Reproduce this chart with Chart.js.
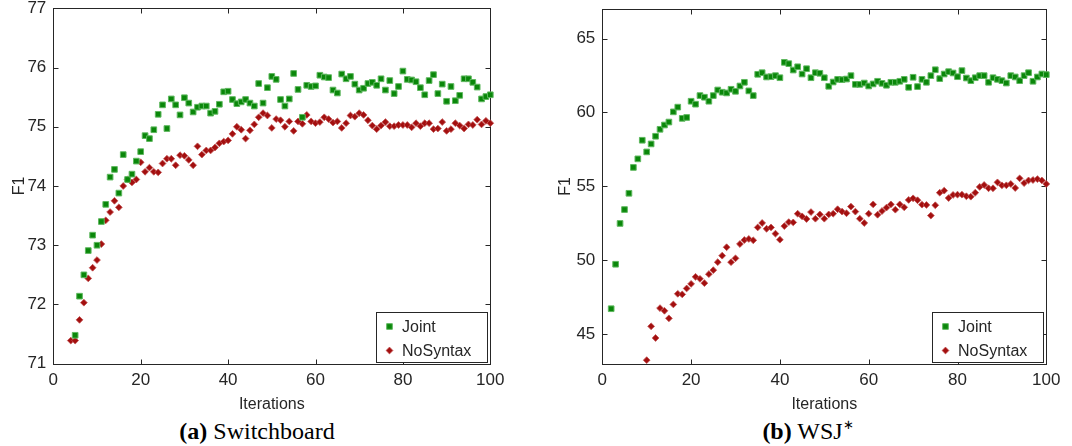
<!DOCTYPE html>
<html>
<head>
<meta charset="utf-8">
<title>Joint vs NoSyntax F1 over iterations</title>
<script src="https://cdn.jsdelivr.net/npm/chart.js@4.4.1/dist/chart.umd.min.js"></script>
<style>
  html, body { margin: 0; padding: 0; background: #fff; }
  #fig { position: relative; width: 1072px; height: 446px; overflow: hidden; }
  .panel { position: absolute; top: 0; width: 536px; height: 415px; }
  .cap { position: absolute; top: 418px; width: 240px; text-align: center;
         font-family: "Liberation Serif", "Times New Roman", serif; font-size: 24px;
         line-height: 26px; color: #000; white-space: nowrap; }
  .cap .sup { font-size: 13px; line-height: 0; position: relative; top: -10px; }
</style>
</head>
<body>
<div id="fig">
  <div class="panel" style="left:0"><canvas id="sw" width="536" height="415"></canvas></div>
  <div class="panel" style="left:536px"><canvas id="wsj" width="536" height="415"></canvas></div>
  <div class="cap" style="left:137px"><b>(a)</b> Switchboard</div>
  <div class="cap" style="left:688px"><b>(b)</b> WSJ<span class="sup">∗</span></div>
</div>
<script>
// ---- data: F1 per training iteration ----
const seriesNames = ['Joint', 'NoSyntax'];
const xTicks = [0, 20, 40, 60, 80, 100];

// Switchboard
const swYTicks = [71, 72, 73, 74, 75, 76, 77];
const swJointFirstIter = 5;
const swJoint = [
  71.48, 72.14, 72.50, 72.91, 73.17, 73.00, 73.40, 73.69, 74.15, 74.28,
  73.88, 74.53, 74.11, 74.20, 74.42, 74.58, 74.85, 74.80, 74.95, 75.21,
  75.37, 74.97, 75.47, 75.37, 75.20, 75.49, 75.40, 75.25, 75.33, 75.35,
  75.35, 75.23, 75.26, 75.38, 75.59, 75.60, 75.46, 75.39, 75.42, 75.46,
  75.40, 75.35, 75.73, 75.40, 75.66, 75.85, 75.80, 75.46, 75.35, 75.47,
  75.90, 75.63, 75.16, 75.70, 75.68, 75.69, 75.87, 75.84, 75.83, 75.62,
  75.57, 75.89, 75.81, 75.85, 75.72, 75.62, 75.65, 75.73, 75.75, 75.70,
  75.81, 75.62, 75.78, 75.56, 75.68, 75.94, 75.80, 75.79, 75.76, 75.66,
  75.54, 75.78, 75.88, 75.56, 75.72, 75.43, 75.68, 75.44, 75.53, 75.81,
  75.81, 75.75, 75.67, 75.47, 75.51, 75.54
];
const swNoSynFirstIter = 4;
const swNoSyn = [
  71.39, 71.39, 71.74, 72.03, 72.44, 72.62, 72.75, 73.02, 73.42, 73.56,
  73.75, 73.64, 74.00, 74.11, 74.06, 74.11, 74.40, 74.24, 74.31, 74.24,
  74.23, 74.38, 74.46, 74.46, 74.35, 74.52, 74.51, 74.44, 74.35, 74.67,
  74.53, 74.60, 74.60, 74.65, 74.72, 74.75, 74.77, 74.88, 75.00, 74.95,
  74.80, 74.94, 75.04, 75.16, 75.23, 75.19, 74.98, 75.13, 75.11, 75.00,
  75.09, 74.93, 75.09, 75.05, 75.20, 75.09, 75.06, 75.08, 75.16, 75.13,
  75.07, 75.09, 74.98, 75.06, 75.19, 75.17, 75.23, 75.20, 75.11, 75.02,
  74.96, 75.02, 75.08, 75.01, 75.01, 75.03, 75.03, 75.03, 74.99, 75.06,
  75.01, 75.06, 75.06, 74.96, 74.97, 75.08, 74.93, 74.96, 75.06, 75.02,
  74.97, 75.04, 75.03, 75.12, 75.04, 75.10, 75.06
];

// WSJ*
const wsjYTicks = [45, 50, 55, 60, 65];
const wsjJointFirstIter = 2;
const wsjJoint = [
  46.72, 49.73, 52.49, 53.43, 54.53, 56.28, 56.86, 58.12, 57.33, 57.87,
  58.39, 58.86, 59.15, 59.35, 60.04, 60.36, 59.60, 59.66, 60.76, 60.56,
  61.14, 61.03, 60.76, 61.14, 61.52, 61.37, 61.32, 61.57, 61.43, 61.79,
  62.04, 61.46, 61.14, 62.58, 62.69, 62.40, 62.42, 62.49, 62.35, 63.39,
  63.30, 62.87, 63.09, 62.60, 62.96, 62.35, 62.69, 62.65, 62.35, 61.77,
  62.06, 62.24, 62.22, 62.26, 62.49, 61.90, 61.90, 61.99, 61.79, 61.93,
  62.11, 61.97, 61.84, 62.04, 62.04, 62.11, 62.24, 61.70, 62.38, 61.75,
  62.24, 62.04, 62.49, 62.89, 62.29, 62.60, 62.76, 62.67, 62.42, 62.83,
  62.33, 62.15, 62.35, 62.49, 62.49, 62.04, 62.35, 62.24, 62.15, 61.99,
  62.49, 62.40, 62.15, 62.49, 62.69, 62.11, 62.40, 62.60, 62.56
];
const wsjNoSynFirstIter = 10;
const wsjNoSyn = [
  43.24, 45.53, 44.74, 46.76, 46.58, 46.07, 47.01, 47.73, 47.69, 48.09,
  48.40, 48.88, 48.74, 48.45, 49.06, 49.33, 49.87, 50.31, 50.88, 49.87,
  50.13, 51.10, 51.37, 51.44, 51.35, 52.22, 52.52, 52.13, 52.22, 51.80,
  51.39, 52.31, 52.58, 52.56, 53.15, 52.97, 52.79, 53.26, 52.81, 53.10,
  52.81, 53.10, 53.15, 53.45, 53.29, 53.18, 53.63, 53.29, 52.81, 52.52,
  53.15, 53.78, 53.08, 53.33, 53.56, 53.78, 53.42, 53.78, 53.58, 54.08,
  54.19, 54.06, 53.76, 53.74, 53.02, 53.72, 54.57, 54.71, 54.21, 54.42,
  54.44, 54.44, 54.33, 54.30, 54.57, 54.96, 55.09, 54.87, 54.87, 55.27,
  55.07, 55.07, 55.16, 54.89, 55.54, 55.22, 55.40, 55.43, 55.49, 55.40,
  55.16
];

// ---- styling ----
const INK = '#262626';
const SANS = '"Liberation Sans", Arial, Helvetica, sans-serif';
const GREEN = '#0a870a', GREEN_EDGE = '#5fb85f';
const RED = '#a30f0f', RED_EDGE = '#c25050';

function toPoints(firstIter, values) {
  return values.map((v, k) => ({ x: firstIter + k, y: v }));
}

function makeDatasets(jointFirst, joint, noSynFirst, noSyn) {
  return [
    { label: seriesNames[0], data: toPoints(jointFirst, joint), pointStyle: 'rect',
      pointRadius: 4, pointBackgroundColor: GREEN, pointBorderColor: GREEN_EDGE,
      pointBorderWidth: 1, showLine: false, clip: false },
    { label: seriesNames[1], data: toPoints(noSynFirst, noSyn), pointStyle: 'rectRot',
      pointRadius: 3.4, pointBackgroundColor: RED, pointBorderColor: RED_EDGE,
      pointBorderWidth: 0.8, showLine: false, clip: false }
  ];
}

// Box around the plot area with inward tick marks on all four sides
const boxedAxes = {
  id: 'boxedAxes',
  beforeDatasetsDraw(chart) {
    const { ctx, chartArea: a, scales: { x, y } } = chart;
    const L = Math.round(a.left) + 0.5, R = Math.round(a.right) + 0.5;
    const T = Math.round(a.top) + 0.5, B = Math.round(a.bottom) + 0.5;
    const len = 5;
    ctx.save();
    ctx.strokeStyle = INK;
    ctx.lineWidth = 1;
    ctx.strokeRect(L, T, R - L, B - T);
    ctx.beginPath();
    x.ticks.forEach(t => {
      const px = Math.round(x.getPixelForValue(t.value)) + 0.5;
      ctx.moveTo(px, B); ctx.lineTo(px, B - len);
      ctx.moveTo(px, T); ctx.lineTo(px, T + len);
    });
    y.ticks.forEach(t => {
      const py = Math.round(y.getPixelForValue(t.value)) + 0.5;
      ctx.moveTo(L, py); ctx.lineTo(L + len, py);
      ctx.moveTo(R, py); ctx.lineTo(R - len, py);
    });
    ctx.stroke();
    ctx.restore();
  }
};

// Legend box in the lower-right corner of the plot area
const cornerLegend = {
  id: 'cornerLegend',
  afterDraw(chart) {
    const { ctx, chartArea: a } = chart;
    const w = 111, h = 50;
    const x0 = Math.round(a.right - 3 - w) + 0.5;
    const y0 = Math.round(a.bottom - 2 - h) + 0.5;
    ctx.save();
    ctx.fillStyle = '#fff';
    ctx.fillRect(x0, y0, w, h);
    ctx.strokeStyle = INK;
    ctx.lineWidth = 1;
    ctx.strokeRect(x0, y0, w, h);
    ctx.font = '16px ' + SANS;
    ctx.textBaseline = 'middle';
    ctx.textAlign = 'left';
    chart.data.datasets.forEach((ds, k) => {
      const cy = y0 + 14 + k * 24;
      const cx = x0 + 13;
      ctx.beginPath();
      if (ds.pointStyle === 'rect') {
        const s = ds.pointRadius * Math.SQRT1_2;
        ctx.rect(cx - s, cy - s, 2 * s, 2 * s);
      } else {
        const r = ds.pointRadius;
        ctx.moveTo(cx, cy - r); ctx.lineTo(cx + r, cy);
        ctx.lineTo(cx, cy + r); ctx.lineTo(cx - r, cy);
        ctx.closePath();
      }
      ctx.fillStyle = ds.pointBackgroundColor;
      ctx.fill();
      ctx.lineWidth = ds.pointBorderWidth;
      ctx.strokeStyle = ds.pointBorderColor;
      ctx.stroke();
      ctx.fillStyle = INK;
      ctx.fillText(ds.label, x0 + 25.5, cy + 1.5);
    });
    ctx.restore();
  }
};

function buildChart(canvasId, datasets, cfg) {
  return new Chart(document.getElementById(canvasId), {
    type: 'scatter',
    data: { datasets },
    plugins: [boxedAxes, cornerLegend],
    options: {
      responsive: false,
      animation: false,
      devicePixelRatio: 1,
      layout: { padding: cfg.padding },
      plugins: { legend: { display: false }, tooltip: { enabled: false } },
      scales: {
        x: {
          type: 'linear', min: 0, max: 100,
          afterBuildTicks: s => { s.ticks = xTicks.map(v => ({ value: v })); },
          afterFit: s => { s.height = cfg.xAxisHeight; s.paddingLeft = 0; s.paddingRight = 0; },
          grid: { display: false, drawTicks: false },
          border: { display: false },
          ticks: { color: INK, font: { family: SANS, size: 17, lineHeight: 1 },
                   padding: 8, maxRotation: 0, autoSkip: false },
          title: { display: true, text: 'Iterations', color: INK,
                   font: { family: SANS, size: 16 }, padding: { top: 0, bottom: 0.6 } }
        },
        y: {
          type: 'linear', min: cfg.yMin, max: cfg.yMax,
          afterBuildTicks: s => { s.ticks = cfg.yTicks.map(v => ({ value: v })); },
          afterFit: s => { s.width = cfg.yAxisWidth; s.paddingTop = 0; s.paddingBottom = 0; },
          grid: { display: false, drawTicks: false },
          border: { display: false },
          ticks: { color: INK, font: { family: SANS, size: 17, lineHeight: 1 },
                   padding: 7, autoSkip: false },
          title: { display: true, text: 'F1', color: INK,
                   font: { family: SANS, size: 16 }, padding: { top: cfg.yTitlePad, bottom: 0 } }
        }
      }
    }
  });
}

buildChart('sw', makeDatasets(swJointFirstIter, swJoint, swNoSynFirstIter, swNoSyn), {
  yMin: 71, yMax: 77, yTicks: swYTicks,
  padding: { top: 8.3, right: 45.7, bottom: 0, left: 0 },
  yAxisWidth: 53.3, xAxisHeight: 51.3, yTitlePad: 10
});

buildChart('wsj', makeDatasets(wsjJointFirstIter, wsjJoint, wsjNoSynFirstIter, wsjNoSyn), {
  yMin: 43, yMax: 67, yTicks: wsjYTicks,
  padding: { top: 9, right: 25.7, bottom: 0, left: 0 },
  yAxisWidth: 66.3, xAxisHeight: 51.3, yTitlePad: 20
});
</script>
</body>
</html>
